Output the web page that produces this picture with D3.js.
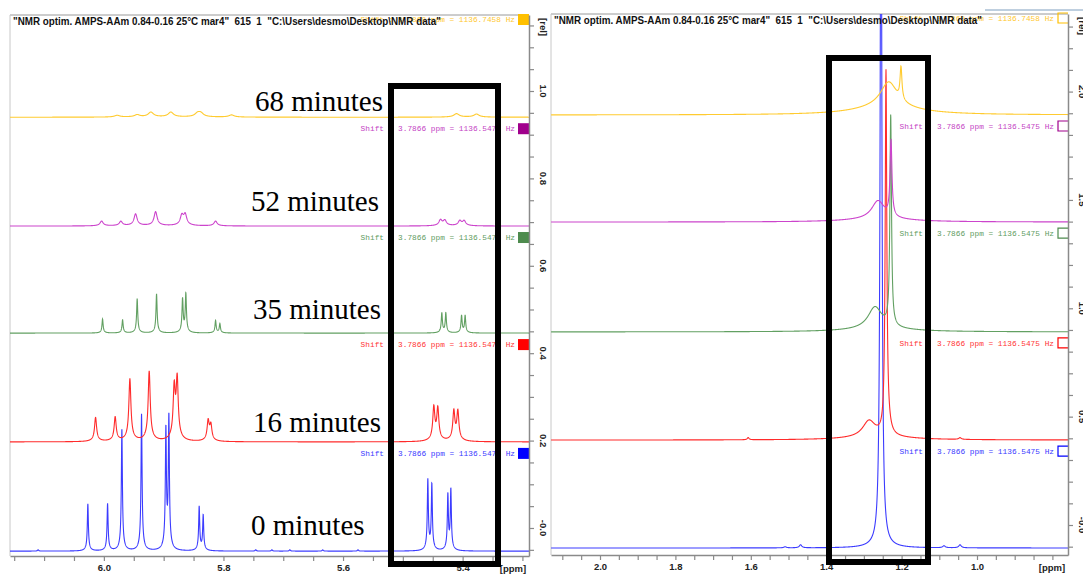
<!DOCTYPE html>
<html>
<head>
<meta charset="utf-8">
<script src="https://cdn.jsdelivr.net/npm/d3@7"></script>
<style>
  body { margin: 0; background: #fff; }
  svg { display: block; }
</style>
</head>
<body>
<div id="chart"></div>
<script>
// stacked spectra, bottom to top
const times = ["0 minutes", "16 minutes", "35 minutes", "52 minutes", "68 minutes"];

// vinyl region (left plot): [ppm, height in rel]
const vinyl0 = [[6.0268, 0.108], [5.9938, 0.108], [5.9699, 0.279], [5.9370, 0.313], [5.8963, 0.27], [5.8913, 0.30],
                [5.8406, 0.10], [5.8339, 0.08], [5.4582, 0.16], [5.4515, 0.15], [5.4247, 0.125], [5.4197, 0.137],
                [6.110, 0.003], [5.746, 0.003], [5.719, 0.003], [5.689, 0.003], [5.634, 0.003], [5.575, 0.003]];
const vinyl16 = [[6.0139, 0.055], [5.9811, 0.055], [5.9565, 0.142], [5.9242, 0.160], [5.8824, 0.115], [5.8774, 0.135],
                 [5.8256, 0.045], [5.8211, 0.035], [5.4482, 0.075], [5.4415, 0.072], [5.4147, 0.066], [5.4080, 0.066]];
const vinyl35 = [[6.0022, 0.032], [5.9687, 0.030], [5.9443, 0.078], [5.9119, 0.089], [5.8684, 0.076], [5.8629, 0.088],
                 [5.8132, 0.028], [5.8060, 0.021], [5.4348, 0.045], [5.4281, 0.045], [5.4018, 0.039], [5.3958, 0.039]];
const vinyl52 = [[6.0038, 0.011], [5.9716, 0.010], [5.9470, 0.027], [5.9135, 0.032], [5.8696, 0.022], [5.8640, 0.024],
                 [5.8132, 0.011], [5.4370, 0.013], [5.4298, 0.012], [5.4047, 0.011], [5.3975, 0.011]];
const vinyl68 = [[5.9778, 0.004], [5.9443, 0.005], [5.9214, 0.011], [5.8880, 0.011], [5.8433, 0.008], [5.8378, 0.008],
                 [5.7865, 0.005], [5.4102, 0.008], [5.3768, 0.007]];
const vinylLineWidths = [0.001, 0.002, 0.0011, 0.003, 0.005];
const vinylOffsets = [-0.053, 0.197, 0.446, 0.691, 0.940];
const vinylDomain = [6.157, 5.289];
const vinylTicks = [6.0, 5.8, 5.6, 5.4];
const vinylRelTicks = [0, 0.2, 0.4, 0.6, 0.8, 1.0];

// alkyl region (right plot): [ppm, height in rel, half width in ppm]
const alkyl0 = [[1.2546, 3.5, 0.0027], [1.2546, 0.014, 0.03], [1.509, 0.005, 0.004], [1.468, 0.014, 0.004],
                [1.0875, 0.009, 0.004], [1.045, 0.014, 0.004]];
const alkyl16 = [[1.2414, 1.66, 0.0025], [1.2865, 0.074, 0.02], [1.236, 0.037, 0.008], [1.26, 0.014, 0.1],
                 [1.607, 0.01, 0.003], [1.045, 0.008, 0.004]];
const alkyl35 = [[1.2289, 0.97, 0.0025], [1.2706, 0.10, 0.022], [1.26, 0.014, 0.1]];
const alkyl52 = [[1.2281, 0.35, 0.003], [1.2626, 0.083, 0.02], [1.26, 0.014, 0.1]];
const alkyl68 = [[1.2016, 0.148, 0.003], [1.234, 0.115, 0.0265], [1.24, 0.037, 0.1]];
const alkylOffsets = [-0.106, 0.392, 0.891, 1.398, 1.892];
const alkylDomain = [2.130, 0.7586];
const alkylTicks = [2.0, 1.8, 1.6, 1.4, 1.2, 1.0];
const alkylRelTicks = [0, 0.5, 1.0, 1.5, 2.0];

const titleText = '"NMR optim. AMPS-AAm 0.84-0.16 25°C mar4"  615  1  "C:\\Users\\desmo\\Desktop\\NMR data"';
const shiftText = "Shift : 3.7866 ppm = 1136.5475 Hz";
const shiftTextTop = "Shift : 3.7868 ppm = 1136.7458 Hz";

const lineColors = ["#3c3cff", "#ff2b2b", "#62a062", "#cc44cc", "#ffcb30"];
const boxColors = ["#0000ff", "#ff0000", "#4e8b4e", "#a0008c", "#ffc000"];
const textColors = ["#3a3aff", "#ff3535", "#5f9c5f", "#c444c4", "#ffc830"];

const svg = d3.select("#chart").append("svg")
    .attr("width", 1083)
    .attr("height", 575)
    .style("font-family", "'Liberation Sans', Arial, sans-serif");

function lineshape(peaks, ppm, wing) {
    let s = 0;
    for (const [p, h, g] of peaks) {
        const d = (ppm - p) / g;
        const d2 = d / 4;
        s += h * ((1 - wing) / (1 + d * d) + wing / (1 + d2 * d2));
    }
    return s;
}

function drawPanel(cfg) {
    const x = d3.scaleLinear().domain(cfg.domain).range([cfg.left, cfg.right]);
    const y = d3.scaleLinear().domain(cfg.relDomain).range([cfg.bottom, cfg.top]);

    // frame
    svg.append("line").attr("x1", cfg.left).attr("x2", cfg.right).attr("y1", cfg.top).attr("y2", cfg.top)
        .attr("stroke", "#9a9a9a").attr("stroke-width", 1);
    svg.append("line").attr("x1", cfg.left).attr("x2", cfg.left).attr("y1", cfg.top).attr("y2", cfg.bottom)
        .attr("stroke", "#c8c8c8").attr("stroke-width", 1);

    svg.append("clipPath").attr("id", cfg.id)
        .append("rect")
        .attr("x", cfg.left).attr("y", cfg.top)
        .attr("width", cfg.right - cfg.left).attr("height", cfg.bottom - cfg.top);

    const lo = Math.min(...cfg.domain), hi = Math.max(...cfg.domain);
    const grid = d3.range(lo, hi, cfg.step);
    const line = d3.line().x(d => x(d[0])).y(d => y(d[1]));

    const g = svg.append("g").attr("clip-path", `url(#${cfg.id})`);
    cfg.spectra.forEach((peaks, i) => {
        const pts = grid.map(p => {
            const pk = peaks.map(q => [q[0], q[1], q[2] || cfg.widths[i]]);
            return [p, cfg.offsets[i] + lineshape(pk, p, cfg.wing)];
        });
        g.append("path")
            .attr("d", line(pts))
            .attr("fill", "none")
            .attr("stroke", lineColors[i])
            .attr("stroke-width", 1.1);
    });

    // shift labels and colour squares
    cfg.offsets.forEach((off, i) => {
        const sq = i < cfg.offsets.length - 1 ? y(cfg.offsets[i + 1]) + 6 : cfg.top - 1;
        if (cfg.filled) {
            svg.append("rect").attr("x", cfg.right - 11).attr("y", sq)
                .attr("width", 11).attr("height", 11).attr("fill", boxColors[i]);
        } else {
            svg.append("path")
                .attr("d", `M${cfg.right},${sq} H${cfg.right - 10} V${sq + 10} H${cfg.right}`)
                .attr("fill", "none").attr("stroke", boxColors[i]).attr("stroke-width", 1.2);
        }
        svg.append("text")
            .attr("x", cfg.right - 14).attr("y", sq + 8)
            .attr("text-anchor", "end")
            .style("font-family", "'Liberation Mono', 'DejaVu Sans Mono', monospace")
            .style("font-size", "7.8px")
            .attr("fill", textColors[i])
            .text(i === cfg.offsets.length - 1 ? shiftTextTop : shiftText);
    });

    // title
    svg.append("text")
        .attr("x", cfg.left + 3).attr("y", cfg.top + 10)
        .attr("textLength", 428).attr("lengthAdjust", "spacingAndGlyphs")
        .style("white-space", "pre")
        .style("font-weight", "bold").style("font-size", "10px")
        .attr("fill", "#111")
        .text(titleText);

    // x axis
    const minor = d3.range(Math.ceil(lo * 20), Math.floor(hi * 20) + 1).map(k => k / 20);
    const xAxis = svg.append("g")
        .attr("transform", `translate(0,${cfg.bottom})`)
        .call(d3.axisBottom(x).tickValues(minor).tickSize(5).tickSizeOuter(0).tickPadding(3)
            .tickFormat(d => cfg.ticks.some(t => Math.abs(t - d) < 1e-6) ? d.toFixed(1) : ""));
    xAxis.select(".domain").attr("stroke", "#8a8a8a").attr("stroke-width", 1.5);
    xAxis.selectAll(".tick line").attr("stroke", "#8a8a8a").attr("stroke-width", 1.2);
    xAxis.selectAll("text").style("font-size", "9.5px").style("font-weight", "bold").attr("fill", "#222");
    svg.append("text").attr("x", cfg.right - 16).attr("y", cfg.bottom + 16)
        .attr("text-anchor", "middle").style("font-size", "9.5px").style("font-weight", "bold")
        .attr("fill", "#222").text("[ppm]");

    // rel axis on the right
    const rLo = Math.ceil(cfg.relDomain[0] / cfg.relStep), rHi = Math.floor(cfg.relDomain[1] / cfg.relStep);
    const relMinor = d3.range(rLo, rHi + 1).map(k => k * cfg.relStep);
    const yAxis = svg.append("g")
        .attr("transform", `translate(${cfg.right},0)`)
        .call(d3.axisRight(y).tickValues(relMinor).tickSize(5).tickSizeOuter(0).tickFormat(""));
    yAxis.select(".domain").attr("stroke", "#8a8a8a").attr("stroke-width", 1.5);
    yAxis.selectAll(".tick line").attr("stroke", "#8a8a8a").attr("stroke-width", 1.2);

    const lx = cfg.right + 14;
    svg.selectAll(null).data(cfg.relTicks).enter().append("text")
        .attr("transform", d => `translate(${lx},${y(d)}) rotate(90)`)
        .attr("text-anchor", "middle").attr("dy", "0.35em")
        .style("font-size", "9.5px").style("font-weight", "bold").attr("fill", "#222")
        .text(d => d === 0 ? "-0.0" : d.toFixed(1));
    svg.append("text")
        .attr("transform", `translate(${lx},${cfg.top + 12}) rotate(90)`)
        .attr("text-anchor", "middle").attr("dy", "0.35em")
        .style("font-size", "9.5px").style("font-weight", "bold").attr("fill", "#222")
        .text("[rel]");
}

drawPanel({
    id: "clipVinyl", left: 10, right: 529, top: 15, bottom: 556,
    domain: vinylDomain, relDomain: [-0.0641, 1.1739], relStep: 0.05,
    spectra: [vinyl0, vinyl16, vinyl35, vinyl52, vinyl68], widths: vinylLineWidths,
    offsets: vinylOffsets, ticks: vinylTicks, relTicks: vinylRelTicks,
    step: 0.0002, wing: 0.08, filled: true
});

drawPanel({
    id: "clipAlkyl", left: 551, right: 1068, top: 14, bottom: 555,
    domain: alkylDomain, relDomain: [-0.1384, 2.358], relStep: 0.1,
    spectra: [alkyl0, alkyl16, alkyl35, alkyl52, alkyl68], widths: [0, 0, 0, 0, 0],
    offsets: alkylOffsets, ticks: alkylTicks, relTicks: alkylRelTicks,
    step: 0.0004, wing: 0, filled: false
});

// separator line at the top right
svg.append("line").attr("x1", 985).attr("x2", 1083).attr("y1", 10).attr("y2", 10)
    .attr("stroke", "#7f9fbf").attr("stroke-width", 1);

// time labels
const labelPos = [[251, 535, "start"], [381, 432, "end"], [381, 319, "end"], [379, 211, "end"], [383, 111, "end"]];
svg.selectAll(".timeLabel").data(times).enter().append("text")
    .attr("class", "timeLabel")
    .attr("x", (d, i) => labelPos[i][0])
    .attr("y", (d, i) => labelPos[i][1])
    .attr("text-anchor", (d, i) => labelPos[i][2])
    .style("font-family", "'Liberation Serif', 'Times New Roman', serif")
    .style("font-size", "29px")
    .attr("fill", "#000")
    .text(d => d);

// highlight boxes
svg.append("rect").attr("x", 391).attr("y", 86).attr("width", 107).attr("height", 478)
    .attr("fill", "none").attr("stroke", "#000").attr("stroke-width", 6);
svg.append("rect").attr("x", 829).attr("y", 58).attr("width", 99).attr("height", 504)
    .attr("fill", "none").attr("stroke", "#000").attr("stroke-width", 6);
</script>
</body>
</html>
